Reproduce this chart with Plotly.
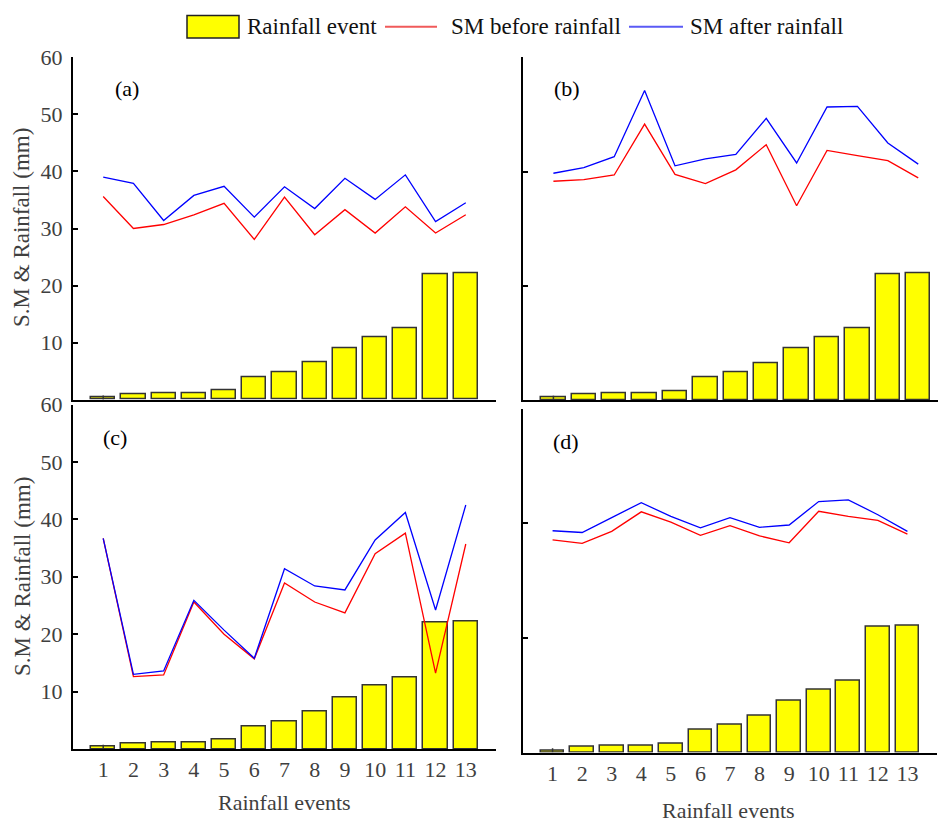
import plotly.graph_objects as go

# ---------------- data ----------------
events = list(range(1, 14))
tick_labels = [str(e) for e in events]
rainfall = [0.4, 1.0, 1.2, 1.2, 1.6, 4.0, 4.8, 6.5, 9.0, 11.0, 12.5, 22.0, 22.2]
rainfall_err = [0.35, 0, 0, 0, 0, 0, 0, 0, 0, 0, 0, 0, 0]

a_before = [35.6, 30.0, 30.7, 32.4, 34.4, 28.1, 35.5, 28.9, 33.3, 29.2, 33.8, 29.2, 32.4]
a_after = [39.0, 37.9, 31.4, 35.8, 37.4, 32.0, 37.3, 33.5, 38.8, 35.1, 39.4, 31.2, 34.5]

b_before = [38.3, 38.6, 39.4, 48.3, 39.5, 37.9, 40.3, 44.7, 34.0, 43.7, 42.8, 41.9, 38.9]
b_after = [39.7, 40.7, 42.6, 54.2, 41.0, 42.2, 43.0, 49.3, 41.5, 51.3, 51.4, 45.0, 41.3]

c_before = [36.7, 12.6, 12.9, 25.6, 20.0, 15.7, 28.9, 25.6, 23.7, 34.0, 37.6, 13.2, 35.7]
c_after = [36.7, 13.0, 13.6, 25.9, 20.7, 15.8, 31.4, 28.4, 27.7, 36.4, 41.2, 24.2, 42.5]

d_before = [37.1, 36.5, 38.6, 42.0, 40.2, 37.9, 39.6, 37.8, 36.6, 42.1, 41.2, 40.5, 38.1]
d_after = [38.7, 38.4, 41.0, 43.6, 41.2, 39.2, 41.0, 39.3, 39.7, 43.8, 44.1, 41.5, 38.6]

panels = [
    ("(a)", a_before, a_after),
    ("(b)", b_before, b_after),
    ("(c)", c_before, c_after),
    ("(d)", d_before, d_after),
]

# ---------------- styles ----------------
W, H = 938, 823
FONT = "Liberation Serif, Times New Roman, serif"
GREY = "#3f3f3f"
BAR_FILL = "#ffff00"
BAR_EDGE = "#333333"
RED = "#ff0000"
BLUE = "#0000ff"


def px_x(v):
    return v / W


def px_y(v):
    return 1 - v / H


# domains (pixel based)
x_dom = [
    [px_x(73), px_x(496)],
    [px_x(523), 1.0],
    [px_x(73), px_x(496)],
    [px_x(523), px_x(937)],
]
y_dom = [
    [px_y(399.7), px_y(57.3)],
    [px_y(400.0), px_y(57.3)],
    [px_y(749.0), px_y(404.5)],
    [px_y(752.5), px_y(408.7)],
]
x_rng = [[0, 14], [0, 13.65], [0, 14], [0, 14]]

fig = go.Figure()

for i, (lab, before, after) in enumerate(panels):
    sfx = "" if i == 0 else str(i + 1)
    xa, ya = "x" + sfx, "y" + sfx
    fig.add_trace(go.Bar(
        x=events, y=rainfall, width=0.8, xaxis=xa, yaxis=ya,
        marker=dict(color=BAR_FILL, line=dict(color=BAR_EDGE, width=1.5)),
        error_y=dict(type="data", array=rainfall_err, visible=True,
                     thickness=1.5, width=0, color=BAR_EDGE),
        name="Rainfall event", showlegend=False))
    fig.add_trace(go.Scatter(
        x=events, y=before, mode="lines", xaxis=xa, yaxis=ya,
        line=dict(color=RED, width=1.3), name="SM before rainfall", showlegend=False))
    fig.add_trace(go.Scatter(
        x=events, y=after, mode="lines", xaxis=xa, yaxis=ya,
        line=dict(color=BLUE, width=1.3), name="SM after rainfall", showlegend=False))

layout = dict(
    width=W, height=H,
    margin=dict(l=0, r=0, t=0, b=0, pad=0),
    paper_bgcolor="white", plot_bgcolor="white",
    font=dict(family=FONT, size=22, color=GREY),
    showlegend=False,
    bargap=0,
)

for i in range(4):
    sfx = "" if i == 0 else str(i + 1)
    show_xlab = i >= 2
    show_ylab = i in (0, 2)
    layout["xaxis" + sfx] = dict(
        domain=x_dom[i], range=x_rng[i], anchor="y" + sfx,
        automargin=False,
        showline=True, linecolor="black", linewidth=2,
        showgrid=False, zeroline=False, ticks="",
        tickvals=events, ticktext=tick_labels,
        showticklabels=show_xlab,
        tickfont=dict(family=FONT, size=22, color=GREY),
    )
    layout["yaxis" + sfx] = dict(
        domain=y_dom[i], range=[0, 60], anchor="x" + sfx,
        automargin=False,
        showline=True, linecolor="black", linewidth=2,
        showgrid=False, zeroline=False,
        ticks="inside", ticklen=5, tickwidth=2, tickcolor="black",
        tickvals=[10, 20, 30, 40, 50, 60] if show_ylab else [20, 40, 60],
        showticklabels=show_ylab,
        ticklabelstandoff=4,
        tickfont=dict(family=FONT, size=22, color=GREY),
    )

annotations = []
# panel labels
for txt, x, y in [("(a)", 126.7, 88), ("(b)", 566.7, 88), ("(c)", 115, 437), ("(d)", 565.7, 442)]:
    annotations.append(dict(text=txt, x=px_x(x), y=px_y(y), xref="paper", yref="paper",
                            showarrow=False, xanchor="center", yanchor="middle",
                            font=dict(family=FONT, size=22, color="black")))
# y titles
for y in (228, 577):
    annotations.append(dict(text="S.M & Rainfall (mm)", x=px_x(22), y=px_y(y),
                            xref="paper", yref="paper", showarrow=False, textangle=-90,
                            xanchor="center", yanchor="middle",
                            font=dict(family=FONT, size=23, color=GREY)))
# x titles
for x, y in [(284, 802), (728, 810)]:
    annotations.append(dict(text="Rainfall events", x=px_x(x), y=px_y(y),
                            xref="paper", yref="paper", showarrow=False,
                            xanchor="center", yanchor="middle",
                            font=dict(family=FONT, size=22, color=GREY)))

# legend (drawn manually)
shapes = [
    dict(type="rect", xref="paper", yref="paper",
         x0=px_x(187), x1=px_x(239), y0=px_y(38), y1=px_y(15.5),
         fillcolor=BAR_FILL, line=dict(color="#222222", width=1.5)),
    dict(type="line", xref="paper", yref="paper",
         x0=px_x(385), x1=px_x(437), y0=px_y(26.7), y1=px_y(26.7),
         line=dict(color="#f05a5a", width=2)),
    dict(type="line", xref="paper", yref="paper",
         x0=px_x(629), x1=px_x(683), y0=px_y(26.7), y1=px_y(26.7),
         line=dict(color="#5a5af5", width=2)),
]
for txt, x in [("Rainfall event", 245), ("SM before rainfall", 449), ("SM after rainfall", 688)]:
    annotations.append(dict(text=txt, x=px_x(x), y=px_y(27), xref="paper", yref="paper",
                            showarrow=False, xanchor="left", yanchor="middle",
                            font=dict(family=FONT, size=23, color="#111111")))

layout["annotations"] = annotations
layout["shapes"] = shapes
fig.update_layout(**layout)

fig.write_html("out.html")
